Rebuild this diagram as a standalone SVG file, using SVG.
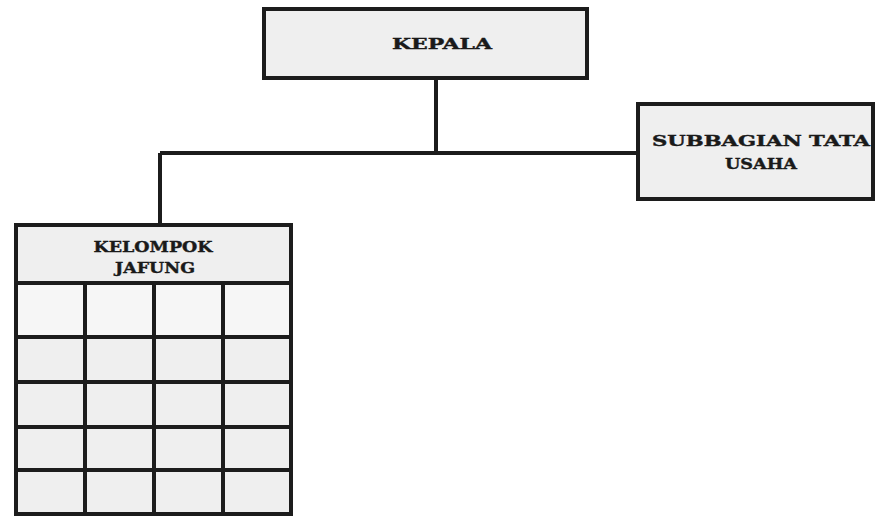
<svg xmlns="http://www.w3.org/2000/svg" width="875" height="517" viewBox="0 0 875 517">
<style>
.box{fill:#efefef;stroke:#1c1c1c;stroke-width:4}
.ln{fill:none;stroke:#1c1c1c;stroke-width:4}
text{font-family:"DejaVu Serif",serif;font-weight:bold;font-size:15px;fill:#1a1a1a;stroke:#1a1a1a;stroke-width:0.4;text-anchor:middle}
</style>
<rect width="875" height="517" fill="#ffffff"/>
<g id="connectors">
<path class="ln" d="M436 79 V153 M160 153 H638 M160 153 V225"/>
</g>
<g id="kepala">
<rect class="box" x="264" y="9" width="323" height="69"/>
<text x="442" y="49" textLength="100" lengthAdjust="spacingAndGlyphs">KEPALA</text>
</g>
<g id="subbagian">
<rect class="box" x="638" y="104" width="235" height="95"/>
<text x="761" y="146" textLength="218" lengthAdjust="spacingAndGlyphs">SUBBAGIAN TATA</text>
<text x="761" y="169" textLength="72" lengthAdjust="spacingAndGlyphs">USAHA</text>
</g>
<g id="kelompok">
<rect class="box" x="16" y="225" width="275" height="289"/>
<rect x="18" y="285" width="271" height="50" fill="#f6f6f6"/>
<text x="153" y="252" textLength="119" lengthAdjust="spacingAndGlyphs">KELOMPOK</text>
<text x="155" y="273" textLength="80" lengthAdjust="spacingAndGlyphs">JAFUNG</text>
<path class="ln" d="M16 283 H291 M16 337 H291 M16 382 H291 M16 427 H291 M16 470 H291 M85 283 V514 M154 283 V514 M223 283 V514"/>
</g>
</svg>
